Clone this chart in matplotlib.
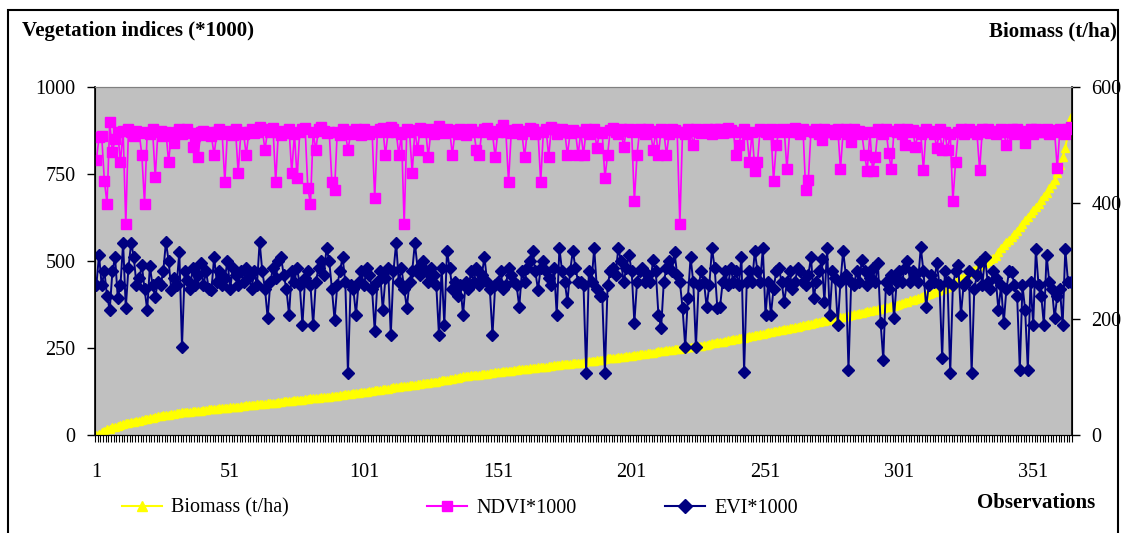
import matplotlib
matplotlib.use("Agg")
import matplotlib.pyplot as plt
import numpy as np
from matplotlib.lines import Line2D
from matplotlib.patches import Rectangle

# biomass (t/ha), sorted ascending (right axis)
biomass = [
    0, 2, 5, 7, 10, 11, 13, 14, 16, 18, 19, 20, 21, 22, 23, 24, 25, 26, 27, 28,
    29, 30, 31, 32, 33, 34, 34, 35, 36, 37, 38, 38, 39, 39, 40, 40, 41, 41, 42, 42,
    43, 43, 44, 44, 45, 45, 46, 46, 47, 47, 48, 48, 49, 49, 50, 50, 51, 51, 52, 52,
    53, 53, 54, 54, 55, 55, 56, 56, 57, 57, 58, 58, 59, 59, 60, 60, 61, 61, 62, 62,
    63, 63, 64, 64, 65, 65, 66, 66, 67, 68, 68, 69, 69, 70, 71, 71, 72, 72, 73, 74,
    74, 75, 76, 76, 77, 78, 78, 79, 80, 80, 81, 82, 82, 83, 84, 84, 85, 86, 86, 87,
    88, 88, 89, 90, 90, 91, 92, 92, 93, 94, 95, 95, 96, 97, 98, 99, 100, 101, 101, 102,
    103, 103, 104, 104, 105, 106, 106, 107, 107, 108, 108, 109, 110, 110, 111, 111, 112, 112, 113, 113,
    114, 114, 115, 115, 116, 117, 117, 118, 118, 119, 119, 120, 120, 121, 122, 122, 123, 123, 124, 124,
    125, 125, 126, 127, 127, 128, 128, 129, 130, 130, 131, 132, 132, 133, 133, 134, 135, 135, 136, 136,
    137, 138, 138, 139, 140, 140, 141, 142, 142, 143, 144, 144, 145, 146, 146, 147, 148, 148, 149, 150,
    150, 151, 152, 152, 153, 154, 154, 155, 156, 157, 158, 159, 160, 160, 161, 162, 163, 164, 165, 166,
    167, 168, 168, 169, 170, 171, 172, 173, 174, 175, 176, 177, 178, 179, 180, 181, 181, 182, 183, 184,
    185, 186, 187, 188, 189, 190, 191, 192, 193, 194, 195, 196, 197, 198, 199, 200, 201, 202, 203, 204,
    205, 206, 207, 208, 209, 210, 211, 212, 213, 214, 215, 216, 217, 218, 219, 220, 221, 222, 223, 225,
    226, 227, 229, 230, 232, 233, 235, 236, 238, 240, 241, 243, 245, 247, 248, 250, 252, 254, 256, 258,
    261, 264, 267, 270, 273, 276, 279, 282, 285, 288, 291, 294, 297, 300, 303, 306, 308, 315, 322, 328,
    333, 337, 341, 347, 352, 358, 364, 370, 376, 382, 388, 393, 398, 405, 412, 418, 425, 432, 440, 452,
    466, 479, 495, 520, 548,
]

# NDVI*1000 (left axis)
ndvi = [
    790, 855, 860, 730, 665, 900, 813, 850, 870, 784, 875, 605, 880, 870, 860, 875, 868, 805, 665, 870,
    865, 880, 740, 870, 875, 860, 872, 784, 866, 839, 870, 878, 865, 872, 880, 868, 828, 860, 799, 870,
    875, 862, 870, 858, 805, 870, 880, 866, 727, 875, 870, 862, 878, 753, 870, 866, 805, 872, 880, 868,
    872, 885, 878, 819, 876, 870, 882, 727, 870, 862, 875, 868, 880, 753, 866, 739, 870, 878, 882, 710,
    665, 870, 819, 880, 885, 875, 868, 872, 727, 704, 870, 862, 878, 870, 819, 866, 875, 880, 870, 862,
    880, 872, 866, 875, 680, 870, 878, 882, 805, 870, 885, 878, 872, 805, 866, 605, 880, 872, 753, 876,
    819, 882, 870, 878, 799, 875, 866, 880, 888, 872, 868, 880, 876, 805, 872, 866, 880, 875, 862, 870,
    880, 872, 819, 805, 870, 878, 882, 875, 866, 799, 872, 880, 890, 870, 727, 868, 876, 880, 872, 866,
    799, 875, 882, 878, 866, 872, 727, 870, 880, 799, 885, 878, 866, 872, 880, 870, 805, 868, 876, 872,
    805, 870, 805, 878, 866, 875, 880, 825, 872, 868, 739, 805, 876, 882, 870, 866, 878, 828, 875, 880,
    870, 672, 805, 878, 872, 866, 880, 875, 819, 870, 805, 878, 872, 805, 866, 880, 876, 870, 605, 872,
    866, 878, 875, 833, 880, 872, 868, 876, 880, 872, 866, 878, 875, 880, 868, 872, 882, 876, 870, 805,
    833, 870, 878, 866, 784, 872, 759, 784, 880, 875, 870, 866, 878, 730, 833, 872, 880, 876, 764, 870,
    878, 882, 872, 866, 880, 704, 733, 875, 870, 878, 866, 848, 880, 872, 876, 870, 866, 880, 764, 872,
    878, 866, 842, 880, 872, 875, 866, 805, 759, 870, 759, 799, 878, 872, 866, 880, 810, 764, 875, 870,
    878, 866, 833, 880, 872, 876, 828, 870, 866, 761, 880, 875, 872, 866, 825, 878, 819, 870, 819, 866,
    672, 784, 870, 878, 866, 872, 880, 875, 870, 866, 761, 878, 872, 880, 868, 875, 866, 872, 880, 870,
    833, 872, 878, 866, 880, 870, 875, 839, 872, 880, 866, 878, 875, 870, 872, 880, 866, 876, 870, 767,
    880, 872, 866, 878, 885,
]

# EVI*1000 (left axis)
evi = [
    430, 517, 430, 470, 400, 359, 470, 511, 394, 430, 552, 365, 480, 552, 511, 430, 450, 488, 420, 359,
    485, 430, 397, 440, 430, 470, 555, 500, 417, 450, 430, 526, 253, 470, 445, 420, 480, 430, 460, 494,
    430, 470, 420, 417, 511, 440, 470, 430, 450, 500, 420, 480, 460, 430, 470, 440, 480, 455, 420, 470,
    430, 555, 470, 420, 336, 440, 480, 450, 500, 511, 460, 420, 345, 470, 440, 480, 430, 316, 450, 470,
    430, 316, 440, 480, 500, 460, 537, 500, 420, 330, 430, 470, 511, 440, 178, 430, 420, 345, 440, 470,
    430, 480, 460, 420, 299, 440, 470, 359, 450, 480, 287, 470, 552, 440, 480, 420, 365, 440, 470, 552,
    480, 460, 500, 470, 440, 480, 460, 430, 287, 480, 316, 529, 480, 420, 440, 400, 430, 345, 440, 420,
    470, 440, 480, 430, 460, 511, 440, 420, 287, 430, 440, 470, 420, 430, 480, 460, 440, 430, 368, 470,
    440, 480, 500, 529, 470, 417, 480, 500, 470, 450, 430, 480, 345, 537, 470, 440, 382, 470, 529, 480,
    440, 440, 430, 178, 470, 440, 537, 420, 400, 400, 178, 430, 470, 480, 460, 537, 500, 440, 480, 517,
    470, 322, 440, 470, 480, 440, 460, 440, 503, 470, 345, 307, 440, 480, 500, 470, 525, 460, 440, 365,
    253, 394, 511, 440, 253, 430, 470, 440, 368, 430, 537, 480, 365, 368, 440, 470, 430, 480, 440, 470,
    430, 511, 181, 440, 470, 440, 529, 470, 440, 537, 345, 440, 345, 420, 470, 480, 440, 382, 440, 470,
    420, 440, 480, 470, 440, 430, 460, 511, 394, 440, 470, 505, 382, 537, 345, 470, 450, 316, 440, 529,
    460, 187, 440, 430, 470, 440, 503, 470, 430, 450, 480, 440, 494, 322, 216, 440, 420, 460, 336, 440,
    470, 440, 480, 500, 440, 470, 460, 440, 540, 470, 368, 430, 460, 440, 494, 430, 221, 470, 440, 178,
    430, 470, 488, 345, 430, 440, 470, 178, 420, 460, 497, 430, 511, 440, 420, 470, 450, 359, 430, 322,
    420, 470, 468, 430, 400, 187, 430, 359, 187, 440, 316, 534, 430, 400, 316, 517, 440, 420, 336, 400,
    420, 316, 534, 440, 440,
]

left_ticks = [0, 250, 500, 750, 1000]
right_ticks = [0, 200, 400, 600]
obs_labels = [1, 51, 101, 151, 201, 251, 301, 351]

YEL, MAG, NAVY, GREY = "#FFFF00", "#FF00FF", "#000080", "#C0C0C0"
SERIF = ["Liberation Serif", "DejaVu Serif"]
plt.rcParams["font.family"] = SERIF
FS = 14.5

x = np.arange(1, len(biomass) + 1)
W, H = 1123, 533
fig = plt.figure(figsize=(W / 100, H / 100), dpi=100)
fig.patch.set_facecolor("white")
fig.patches.append(Rectangle((8 / W, -0.01), 1110 / W, 1 - 10 / H + 0.01, transform=fig.transFigure,
                             fill=False, ec="black", lw=1.5))

rect = [95 / W, 1 - 435 / H, (1072 - 95) / W, (435 - 87) / H]
ax2 = fig.add_axes(rect)                  # biomass axis, drawn underneath
ax = fig.add_axes(rect, sharex=ax2)       # indices axis on top
ax.set_zorder(ax2.get_zorder() + 1)
ax.patch.set_visible(False)
ax2.set_facecolor(GREY)

ax2.plot(x, biomass, color=YEL, lw=1.5, marker="^", ms=6, mec=YEL, mfc=YEL)
ax.plot(x, ndvi, color=MAG, lw=1.2, marker="s", ms=6.5, mec=MAG, mfc=MAG)
ax.plot(x, evi, color=NAVY, lw=1.4, marker="D", ms=6.5, mec=NAVY, mfc=NAVY)

ax.set_ylim(0, 1000); ax2.set_ylim(0, 600)
ax.set_xlim(0.5, len(x) + 0.5)
ax.set_yticks(left_ticks); ax.set_yticklabels([str(t) for t in left_ticks])
ax2.yaxis.tick_right()
ax2.set_yticks(right_ticks); ax2.set_yticklabels([str(t) for t in right_ticks])
ax.set_xticks(obs_labels); ax.set_xticklabels([str(t) for t in obs_labels])
ax.set_xticks(np.arange(0.5, len(x) + 1, 1.0), minor=True)
ax.tick_params(axis="x", which="major", length=0, pad=20, labelsize=FS)
ax.tick_params(axis="x", which="minor", length=5, width=0.8, direction="out")
ax.tick_params(axis="y", length=6, width=1, pad=8, labelsize=FS)
ax2.tick_params(axis="y", length=6, width=1, pad=8, labelsize=FS)
ax2.tick_params(axis="x", which="both", length=0, labelbottom=False)
for a in (ax, ax2):
    a.spines["top"].set_color("#808080")
    for s in ("left", "right", "bottom"):
        a.spines[s].set_color("black")
ax.spines["left"].set_linewidth(1.2)
ax2.spines["right"].set_linewidth(1.2)

fig.text(22 / W, 1 - 31 / H, "Vegetation indices (*1000)", fontsize=FS + 0.5, fontweight="bold",
         ha="left", va="center")
fig.text(1117 / W, 1 - 31 / H, "Biomass (t/ha)", fontsize=FS + 0.5, fontweight="bold",
         ha="right", va="center")
fig.text(1095 / W, 1 - 503 / H, "Observations", fontsize=FS + 0.5, fontweight="bold",
         ha="right", va="center")

entries = [(YEL, "^", "Biomass (t/ha)", 122), (MAG, "s", "NDVI*1000", 427), (NAVY, "D", "EVI*1000", 665)]
for col, mk, lab, px in entries:
    h = Line2D([], [], color=col, lw=1.5, marker=mk, ms=7, mec=col, mfc=col)
    fig.legend([h], [lab], loc="center left", bbox_to_anchor=(px / W, 1 - 508 / H), frameon=False,
               fontsize=FS, handlelength=2.0, handletextpad=0.45, borderpad=0, borderaxespad=0)

fig.savefig("out.png", dpi=100)
